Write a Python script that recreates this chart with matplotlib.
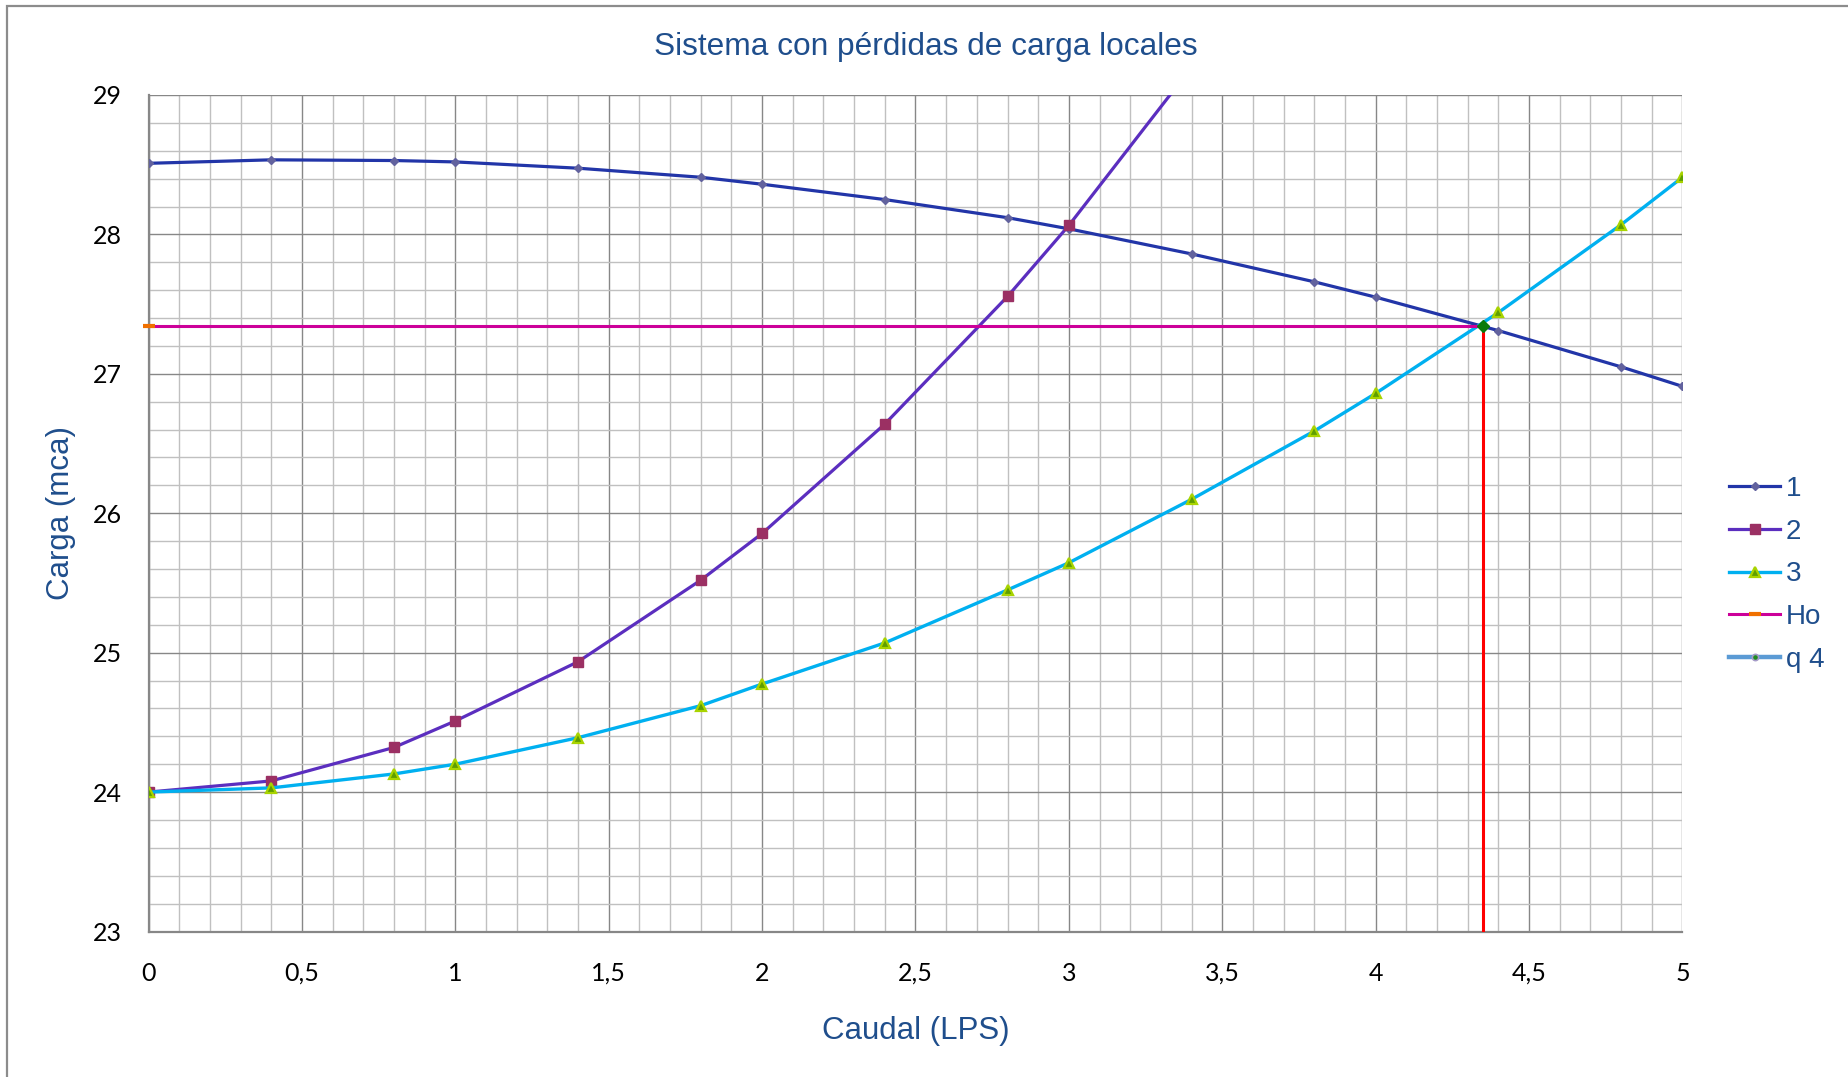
import matplotlib
matplotlib.use("Agg")
import matplotlib.pyplot as plt
from matplotlib.lines import Line2D
from matplotlib.patches import Rectangle
from matplotlib.ticker import MultipleLocator, FixedLocator

# ---- data ----
q_pump = [0, 0.4, 0.8, 1.0, 1.4, 1.8, 2.0, 2.4, 2.8, 3.0, 3.4, 3.8, 4.0, 4.4, 4.8, 5.0]
h_pump = [28.51, 28.535, 28.53, 28.52, 28.475, 28.41, 28.36, 28.25, 28.12, 28.04,
          27.86, 27.66, 27.55, 27.31, 27.05, 26.91]

q_sys2 = [0, 0.4, 0.8, 1.0, 1.4, 1.8, 2.0, 2.4, 2.8, 3.0, 3.4]
h_sys2 = [24.0, 24.08, 24.32, 24.51, 24.935, 25.52, 25.855, 26.64, 27.555, 28.065, 29.2]

q_sys3 = [0, 0.4, 0.8, 1.0, 1.4, 1.8, 2.0, 2.4, 2.8, 3.0, 3.4, 3.8, 4.0, 4.4, 4.8, 5.0]
h_sys3 = [24.0, 24.03, 24.13, 24.20, 24.39, 24.62, 24.775, 25.07, 25.45, 25.645,
          26.10, 26.59, 26.86, 27.44, 28.07, 28.41]

q_ho = [0, 4.35]
h_ho = [27.345, 27.345]

q_q4 = [4.35, 4.35]
h_q4 = [23.0, 27.345]

x_ticks = [0, 0.5, 1, 1.5, 2, 2.5, 3, 3.5, 4, 4.5, 5]
x_ticklabels = ["0", "0,5", "1", "1,5", "2", "2,5", "3", "3,5", "4", "4,5", "5"]
y_ticks = [23, 24, 25, 26, 27, 28, 29]
y_ticklabels = ["23", "24", "25", "26", "27", "28", "29"]

legend_labels = ["1", "2", "3", "Ho", "q 4"]

title = "Sistema con pérdidas de carga locales"
xlabel = "Caudal (LPS)"
ylabel = "Carga (mca)"

# ---- figure ----
W, H = 1849, 1077
fig = plt.figure(figsize=(W / 100, H / 100), dpi=100)
fig.patch.set_facecolor("white")

ax = fig.add_axes([148.5 / W, 1 - 931.5 / H, (1682.5 - 148.5) / W, (931.5 - 95) / H])
ax.set_xlim(0, 5)
ax.set_ylim(23, 29)

text_blue = "#1F4E8C"
major_c = "#878787"
minor_c = "#C0C0C0"

ax.xaxis.set_major_locator(FixedLocator(x_ticks))
ax.xaxis.set_minor_locator(MultipleLocator(0.1))
ax.yaxis.set_major_locator(FixedLocator(y_ticks))
ax.yaxis.set_minor_locator(MultipleLocator(0.2))
ax.set_xticklabels(x_ticklabels)
ax.set_yticklabels(y_ticklabels)

ax.grid(which="minor", color=minor_c, linewidth=1.0, zorder=0)
ax.grid(which="major", color=major_c, linewidth=1.0, zorder=0.5)
ax.set_axisbelow(True)

for s in ["top", "right"]:
    ax.spines[s].set_visible(False)
for s in ["left", "bottom"]:
    ax.spines[s].set_color(major_c)
    ax.spines[s].set_linewidth(1.6)

ax.tick_params(which="both", length=0)
ax.tick_params(axis="x", pad=22, labelsize=18)
ax.tick_params(axis="y", pad=19, labelsize=18)
for lab in ax.get_xticklabels() + ax.get_yticklabels():
    lab.set_fontfamily("Lato")
    lab.set_color("black")

# series
ax.plot(q_pump, h_pump, color="#2235A8", lw=2.3, marker="D", ms=4.5,
        mfc="#62629E", mec="#62629E", zorder=3)
ax.plot(q_sys2, h_sys2, color="#5B2EBF", lw=2.3, marker="s", ms=6.5,
        mfc="#9B3063", mec="#9B3063", zorder=3)
ax.plot(q_sys3, h_sys3, color="#00B0F0", lw=2.4, marker="^", ms=6.5,
        mfc="#5E9E00", mec="#A9D400", mew=1.6, zorder=3)
ax.plot(q_ho, h_ho, color="#CC0099", lw=2.2, marker="_", ms=8, mew=3,
        mec="#F07000", markevery=[0], zorder=3, clip_on=False)
ax.plot(q_q4, h_q4, color="#FF0000", lw=2.2, zorder=4)
ax.plot([q_q4[-1]], [h_q4[-1]], marker="D", ms=6, color="#0B7A0B", zorder=5)

# legend
handles = [
    Line2D([], [], color="#2235A8", lw=2.3, marker="D", ms=4.5, mfc="#62629E", mec="#62629E"),
    Line2D([], [], color="#5B2EBF", lw=2.3, marker="s", ms=6.5, mfc="#9B3063", mec="#9B3063"),
    Line2D([], [], color="#00B0F0", lw=2.4, marker="^", ms=6.5, mfc="#5E9E00", mec="#A9D400", mew=1.6),
    Line2D([], [], color="#CC0099", lw=2.2, marker="_", ms=8, mew=3, mec="#F07000"),
    Line2D([], [], color="#5B9BD5", lw=3.2, marker="o", ms=4.5, mfc="#1E8C1E", mec="#A59BC8", mew=1.2),
]
leg = fig.legend(handles, legend_labels, loc="upper left",
                 bbox_to_anchor=(1729 / W, 1 - 476 / H), frameon=False,
                 prop={"family": "Liberation Sans", "size": 20},
                 handlelength=1.85, handletextpad=0.2, labelspacing=0.6,
                 borderpad=0, borderaxespad=0)
for t in leg.get_texts():
    t.set_color(text_blue)

# titles
fig.text(926 / W, 1 - 47.5 / H, title, ha="center", va="center",
         fontsize=22.8, color=text_blue, family="Liberation Sans")
fig.text(915.5 / W, 1 - 1031 / H, xlabel, ha="center", va="center",
         fontsize=22.5, color=text_blue, family="Liberation Sans")
fig.text(61.5 / W, 1 - 513 / H, ylabel, ha="center", va="center", rotation=90,
         fontsize=22.5, color=text_blue, family="Liberation Sans")

# outer chart border
fig.patches.append(Rectangle((7 / W, -0.05), 1.2, 1 - 6 / H + 0.05,
                             transform=fig.transFigure, fill=False,
                             edgecolor="#8C8C8C", linewidth=1.6))

fig.savefig("out.png", dpi=100, facecolor="white")
